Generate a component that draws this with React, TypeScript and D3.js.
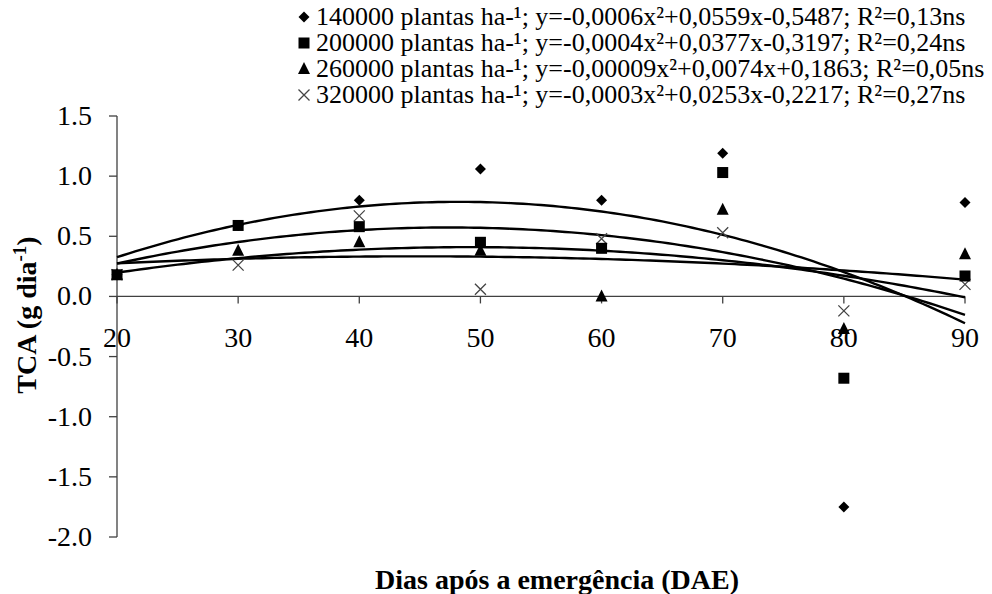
import React from 'react'
import * as d3 from 'd3'

// days after emergence
const days = [20, 30, 40, 50, 60, 70, 80, 90]

// TCA (g dia-1) per plant density
const p140 = [0.18, 0.59, 0.8, 1.06, 0.8, 1.19, -1.75, 0.78]
const p200 = [0.18, 0.59, 0.58, 0.45, 0.4, 1.03, -0.68, 0.17]
const p260 = [0.18, 0.38, 0.45, 0.38, 0.0, 0.72, -0.27, 0.35]
const p320 = [0.18, 0.26, 0.67, 0.06, 0.48, 0.53, -0.12, 0.1]

const legendLabels = [
  '140000 plantas ha-¹; y=-0,0006x²+0,0559x-0,5487; R²=0,13ns',
  '200000 plantas ha-¹; y=-0,0004x²+0,0377x-0,3197; R²=0,24ns',
  '260000 plantas ha-¹; y=-0,00009x²+0,0074x+0,1863; R²=0,05ns',
  '320000 plantas ha-¹; y=-0,0003x²+0,0253x-0,2217; R²=0,27ns',
]

const yTicks = [1.5, 1.0, 0.5, 0.0, -0.5, -1.0, -1.5, -2.0]

const W = 992
const H = 594
const FONT = 'Liberation Serif, Times New Roman, serif'

// least squares quadratic fit y = a + b x + c x^2
function quadFit(xs: number[], ys: number[]) {
  const n = xs.length
  let s1 = 0, s2 = 0, s3 = 0, s4 = 0, sy = 0, sxy = 0, sx2y = 0
  xs.forEach((x, i) => {
    const y = ys[i]
    s1 += x; s2 += x * x; s3 += x ** 3; s4 += x ** 4
    sy += y; sxy += x * y; sx2y += x * x * y
  })
  const m = [
    [n, s1, s2, sy],
    [s1, s2, s3, sxy],
    [s2, s3, s4, sx2y],
  ]
  for (let i = 0; i < 3; i++) {
    for (let k = i + 1; k < 3; k++) {
      const f = m[k][i] / m[i][i]
      for (let j = i; j < 4; j++) m[k][j] -= f * m[i][j]
    }
  }
  const r = [0, 0, 0]
  for (let i = 2; i >= 0; i--) {
    let s = m[i][3]
    for (let j = i + 1; j < 3; j++) s -= m[i][j] * r[j]
    r[i] = s / m[i][i]
  }
  return (x: number) => r[0] + r[1] * x + r[2] * x * x
}

const Marker = ({ kind, x, y }: { kind: string; x: number; y: number }) => {
  if (kind === 'diamond') {
    const s = 5.5
    return <path d={`M${x},${y - s}L${x + s},${y}L${x},${y + s}L${x - s},${y}Z`} fill="#000" />
  }
  if (kind === 'square') {
    return <rect x={x - 5.5} y={y - 5.5} width={11} height={11} fill="#000" />
  }
  if (kind === 'triangle') {
    return <path d={`M${x},${y - 7}L${x + 6},${y + 5}L${x - 6},${y + 5}Z`} fill="#000" />
  }
  const s = 5.5
  return (
    <path
      d={`M${x - s},${y - s}L${x + s},${y + s}M${x - s},${y + s}L${x + s},${y - s}`}
      stroke="#444"
      strokeWidth={1.3}
      fill="none"
    />
  )
}

const series = [
  { name: 'p140', values: p140, kind: 'diamond' },
  { name: 'p200', values: p200, kind: 'square' },
  { name: 'p260', values: p260, kind: 'triangle' },
  { name: 'p320', values: p320, kind: 'cross' },
]

// markers drawn so the squares end up on top
const drawOrder = ['p140', 'p260', 'p320', 'p200']

export default function App() {
  const x = d3.scaleLinear().domain([20, 90]).range([117, 965])
  const y = d3.scaleLinear().domain([-2, 1.5]).range([537, 116])

  const xs = d3.range(20, 90.01, 0.5)
  const line = d3
    .line<number[]>()
    .x((d) => x(d[0]))
    .y((d) => y(d[1]))

  const axisColor = '#404040'

  return (
    <svg
      width={W}
      height={H}
      style={{ position: 'absolute', left: 0, top: 0, background: '#fff', fontFamily: FONT }}
    >
      {/* legend */}
      {legendLabels.map((lab, i) => {
        const cy = 17 + i * 26
        return (
          <g key={lab}>
            <Marker kind={series[i].kind} x={304} y={cy} />
            <text x={316} y={cy + 8} fontSize={26} fill="#000">
              {lab}
            </text>
          </g>
        )
      })}

      {/* y axis */}
      <line x1={x(20)} x2={x(20)} y1={y(1.5)} y2={y(-2)} stroke={axisColor} strokeWidth={1.3} />
      {yTicks.map((t) => (
        <g key={t}>
          <line x1={x(20) - 8} x2={x(20)} y1={y(t)} y2={y(t)} stroke={axisColor} strokeWidth={1.3} />
          <text x={92} y={y(t) + 9} textAnchor="end" fontSize={28} fill="#000">
            {t.toFixed(1)}
          </text>
        </g>
      ))}

      {/* x axis at zero */}
      <line x1={x(20)} x2={x(90)} y1={y(0)} y2={y(0)} stroke={axisColor} strokeWidth={1.3} />
      {days.map((d) => (
        <g key={d}>
          <line x1={x(d)} x2={x(d)} y1={y(0)} y2={y(0) + 7} stroke={axisColor} strokeWidth={1.3} />
          <text x={x(d)} y={347} textAnchor="middle" fontSize={28} fill="#000">
            {d}
          </text>
        </g>
      ))}

      {/* fitted curves */}
      {series.map((s) => {
        const f = quadFit(days, s.values)
        return (
          <path
            key={s.name}
            d={line(xs.map((v) => [v, f(v)])) || ''}
            fill="none"
            stroke="#000"
            strokeWidth={2.4}
          />
        )
      })}

      {/* points */}
      {drawOrder.map((n) => {
        const s = series.find((q) => q.name === n)!
        return (
          <g key={n}>
            {s.values.map((v, i) => (
              <Marker key={i} kind={s.kind} x={x(days[i])} y={y(v)} />
            ))}
          </g>
        )
      })}

      {/* axis titles */}
      <text
        transform="translate(36,315) rotate(-90)"
        textAnchor="middle"
        fontSize={28}
        fontWeight="bold"
        fill="#000"
      >
        TCA (g dia
        <tspan dy={-10} fontSize={19}>-1</tspan>
        <tspan dy={10}>)</tspan>
      </text>
      <text x={557} y={589} textAnchor="middle" fontSize={28} fontWeight="bold" fill="#000">
        Dias após a emergência (DAE)
      </text>
    </svg>
  )
}
